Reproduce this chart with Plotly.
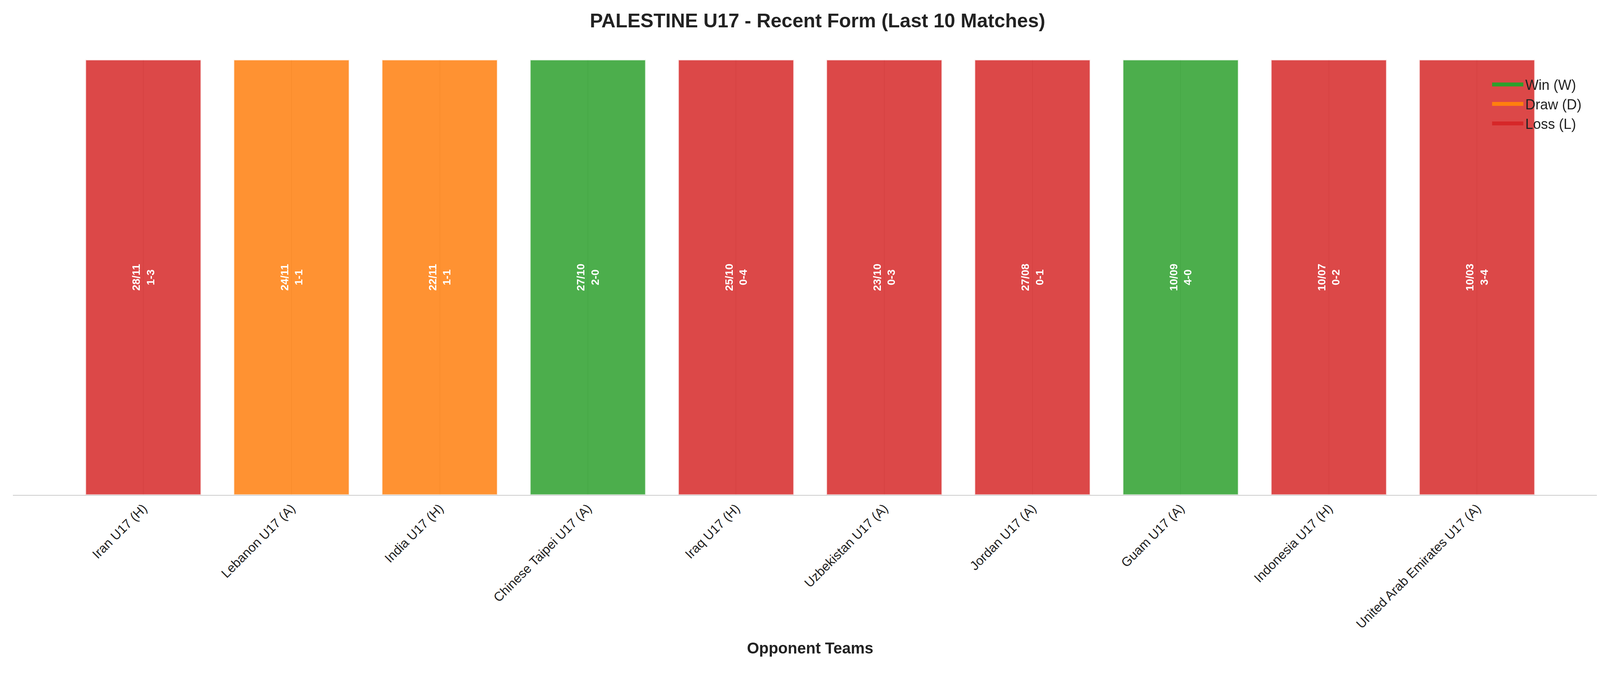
import plotly.graph_objects as go

opponents = ["Iran U17 (H)", "Lebanon U17 (A)", "India U17 (H)", "Chinese Taipei U17 (A)",
             "Iraq U17 (H)", "Uzbekistan U17 (A)", "Jordan U17 (A)", "Guam U17 (A)",
             "Indonesia U17 (H)", "United Arab Emirates U17 (A)"]
dates = ["28/11", "24/11", "22/11", "27/10", "25/10", "23/10", "27/08", "10/09", "10/07", "10/03"]
scores = ["1-3", "1-1", "1-1", "2-0", "0-4", "0-3", "0-1", "4-0", "0-2", "3-4"]
results = ["L", "D", "D", "W", "L", "L", "L", "W", "L", "L"]

outcomes = [("W", "Win (W)", "#2ca02c"), ("D", "Draw (D)", "#ff7f0e"), ("L", "Loss (L)", "#d62728")]

fig = go.Figure()
for code, name, color in outcomes:
    idx = [i for i, r in enumerate(results) if r == code]
    fig.add_trace(go.Bar(
        x=[opponents[i] for i in idx],
        y=[1] * len(idx),
        name=name,
        showlegend=False,
        marker=dict(color=color, line=dict(color="rgba(255,255,255,0.8)", width=3)),
        opacity=0.85,
        width=0.78,
        text=[f"<b>{dates[i]}<br>{scores[i]}</b>" for i in idx],
        textposition="inside",
        insidetextanchor="middle",
        textangle=-90,
        textfont=dict(color="white", size=28, family="Liberation Sans"),
        hoverinfo="skip",
    ))

# legend entries as thick line swatches
for code, name, color in outcomes:
    fig.add_trace(go.Scatter(
        x=[None], y=[None], mode="lines", name=name,
        line=dict(color=color, width=30), hoverinfo="skip",
    ))

fig.update_layout(
    width=4170, height=1769,
    barmode="overlay",
    plot_bgcolor="white", paper_bgcolor="white",
    font=dict(family="Liberation Sans", color="#222222"),
    title=dict(text="<b>PALESTINE U17 - Recent Form (Last 10 Matches)</b>",
               x=0.5, xanchor="center", y=0.975, yanchor="middle",
               font=dict(size=50, color="#222222")),
    margin=dict(l=25, r=63, t=145, b=510),
    legend=dict(x=0.985, y=0.97, xanchor="right", yanchor="top",
                bgcolor="rgba(0,0,0,0)", font=dict(size=36),
                itemwidth=80, traceorder="normal"),
    xaxis=dict(categoryorder="array", categoryarray=opponents,
               range=[-0.88, 9.88], tickangle=-45, tickfont=dict(size=33),
               showgrid=True, gridcolor="rgba(150,150,150,0.35)", gridwidth=2,
               showline=True, linecolor="#cccccc", linewidth=2, ticks="",
               title=dict(text="<b>Opponent Teams</b>", font=dict(size=40), standoff=30)),
    yaxis=dict(range=[0, 1], visible=False),
    uniformtext=dict(mode="show", minsize=20),
)

fig.write_html("out.html")
